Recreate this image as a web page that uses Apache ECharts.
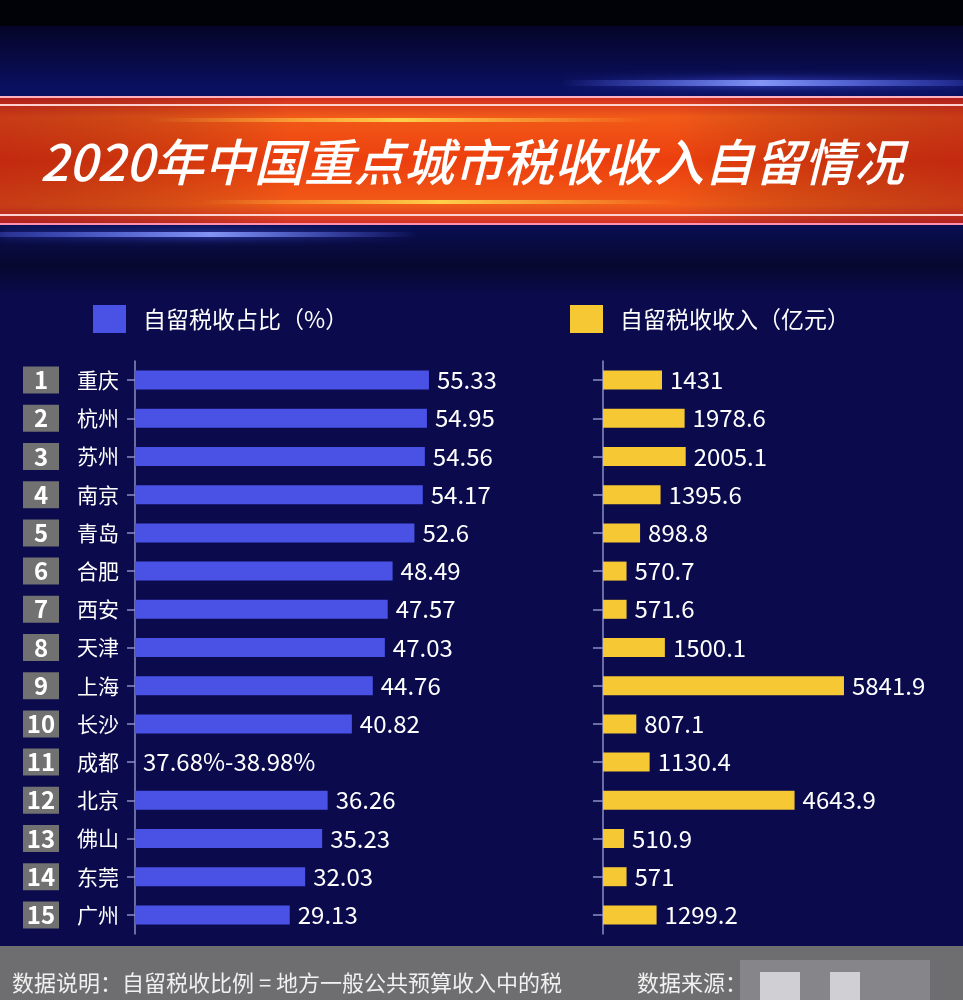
<!DOCTYPE html>
<html><head><meta charset="utf-8">
<script src="https://cdn.jsdelivr.net/npm/echarts@6/dist/echarts.min.js"></script>
<style>html,body{margin:0;padding:0;background:#0b0b4e;}#c{width:963px;height:1000px;}</style>
</head><body><div id="c"></div>
<script>
const titleText = '2020年中国重点城市税收收入自留情况';
const legendLeft = '自留税收占比（%）';
const legendRight = '自留税收收入（亿元）';
const ranks = ['1','2','3','4','5','6','7','8','9','10','11','12','13','14','15'];
const cities = ['重庆','杭州','苏州','南京','青岛','合肥','西安','天津','上海','长沙','成都','北京','佛山','东莞','广州'];
const sharePct = [55.33,54.95,54.56,54.17,52.6,48.49,47.57,47.03,44.76,40.82,null,36.26,35.23,32.03,29.13];
const shareText = {10:'37.68%-38.98%'};
const income = [1431,1978.6,2005.1,1395.6,898.8,570.7,571.6,1500.1,5841.9,807.1,1130.4,4643.9,510.9,571,1299.2];
const noteText = '数据说明：自留税收比例 = 地方一般公共预算收入中的税';
const sourceText = '数据来源：';

const FONT = '"Noto Sans CJK SC","Noto Sans",sans-serif';
const chart = echarts.init(document.getElementById('c'));

const shareData = sharePct.map((v,i)=> v==null ? {value:0, label:{formatter: shareText[i]}} : v);

const catLabelRich = {
  box:{backgroundColor:'#717171',color:'#fff',fontWeight:'bold',fontSize:24,width:36,height:27,align:'center',fontFamily:FONT,lineHeight:27},
  sp:{width:18},
  nm:{color:'#fff',fontSize:21,fontFamily:FONT}
};

chart.setOption({
  backgroundColor:'#0a0a4c',
  graphic:[
    {type:'rect',shape:{x:0,y:0,width:963,height:295},style:{fill:new echarts.graphic.LinearGradient(0,0,0,1,[{offset:0,color:'#02021a'},{offset:0.12,color:'#060630'},{offset:0.3,color:'#0a1060'},{offset:0.7,color:'#0a1060'},{offset:0.9,color:'#07082f'},{offset:1,color:'#0a0a4c'}])},z:-10},
    {type:'rect',shape:{x:0,y:0,width:963,height:26},style:{fill:'#010108'},z:-9},
    {type:'rect',shape:{x:560,y:80,width:403,height:6},style:{fill:new echarts.graphic.LinearGradient(0,0,1,0,[{offset:0,color:'rgba(90,110,255,0)'},{offset:0.5,color:'rgba(140,160,255,0.9)'},{offset:1,color:'rgba(90,110,255,0.2)'}]),shadowBlur:10,shadowColor:'#5060ff'},z:-8},
    {type:'rect',shape:{x:0,y:232,width:420,height:5},style:{fill:new echarts.graphic.LinearGradient(0,0,1,0,[{offset:0,color:'rgba(90,110,255,0.3)'},{offset:0.5,color:'rgba(140,160,255,0.9)'},{offset:1,color:'rgba(90,110,255,0)'}]),shadowBlur:10,shadowColor:'#5060ff'},z:-8},
    {type:'rect',shape:{x:0,y:98,width:963,height:126},style:{fill:new echarts.graphic.LinearGradient(0,0,0,1,[{offset:0,color:'#d03020'},{offset:0.15,color:'#f25a18'},{offset:0.5,color:'#ec3e0e'},{offset:0.85,color:'#f25c18'},{offset:1,color:'#d03028'}])},z:-7},
    {type:'rect',shape:{x:0,y:98,width:963,height:126},style:{fill:new echarts.graphic.LinearGradient(0,0,1,0,[{offset:0,color:'rgba(120,0,20,0.35)'},{offset:0.3,color:'rgba(0,0,0,0)'},{offset:0.7,color:'rgba(0,0,0,0)'},{offset:1,color:'rgba(120,0,20,0.35)'}])},z:-6},
    {type:'rect',shape:{x:0,y:96,width:963,height:2},style:{fill:'#ffb0c0'},z:-5},
    {type:'rect',shape:{x:0,y:104,width:963,height:2},style:{fill:'#ffd0d0'},z:-5},
    {type:'rect',shape:{x:0,y:214,width:963,height:2},style:{fill:'#ffd0d0'},z:-5},
    {type:'rect',shape:{x:0,y:223,width:963,height:2},style:{fill:'#ff90b0'},z:-5},
    {type:'rect',shape:{x:150,y:118,width:500,height:4},style:{fill:new echarts.graphic.LinearGradient(0,0,1,0,[{offset:0,color:'rgba(255,220,80,0)'},{offset:0.5,color:'rgba(255,220,80,0.9)'},{offset:1,color:'rgba(255,220,80,0)'}])},z:-5},
    {type:'rect',shape:{x:200,y:200,width:480,height:4},style:{fill:new echarts.graphic.LinearGradient(0,0,1,0,[{offset:0,color:'rgba(255,220,80,0)'},{offset:0.5,color:'rgba(255,220,80,0.9)'},{offset:1,color:'rgba(255,220,80,0)'}])},z:-5},
    {type:'text',x:472,y:162,style:{text:titleText,fill:'#ffffff',font:'italic 500 50px '+FONT,textAlign:'center',textVerticalAlign:'middle',shadowBlur:4,shadowColor:'rgba(80,0,0,0.8)',shadowOffsetX:2,shadowOffsetY:2},z:10},
    {type:'rect',shape:{x:0,y:946,width:963,height:54},style:{fill:'#6e6e70'},z:-5},
    {type:'text',x:12,y:983,style:{text:noteText,fill:'#f0f0f0',font:'22px '+FONT,textVerticalAlign:'middle'},z:10},
    {type:'text',x:637,y:983,style:{text:sourceText,fill:'#f0f0f0',font:'22px '+FONT,textVerticalAlign:'middle'},z:10},
    {type:'rect',shape:{x:740,y:960,width:190,height:40},style:{fill:'rgba(150,150,155,0.6)'},z:9},
    {type:'rect',shape:{x:760,y:972,width:40,height:28},style:{fill:'rgba(225,225,230,0.8)'},z:9},
    {type:'rect',shape:{x:830,y:972,width:30,height:28},style:{fill:'rgba(225,225,230,0.8)'},z:9}
  ],
  legend:[
    {data:['left'],left:88,top:300,itemWidth:33,itemHeight:28,icon:'rect',formatter:()=>legendLeft,textStyle:{color:'#fff',fontSize:23,fontFamily:FONT,padding:[0,0,0,12]}},
    {data:['right'],left:565,top:300,itemWidth:33,itemHeight:28,icon:'rect',formatter:()=>legendRight,textStyle:{color:'#fff',fontSize:23,fontFamily:FONT,padding:[0,0,0,12]}}
  ],
  grid:[
    {left:135,top:361,width:425,height:573,containLabel:false},
    {left:603,top:361,width:330,height:573,containLabel:false}
  ],
  xAxis:[
    {gridIndex:0,type:'value',min:0,max:80,show:false},
    {gridIndex:1,type:'value',min:0,max:8000,show:false}
  ],
  yAxis:[
    {gridIndex:0,type:'category',data:cities,inverse:true,
     axisLine:{show:true,lineStyle:{color:'#8a8fc4',width:1.5}},
     axisTick:{show:true,length:8,alignWithLabel:true,lineStyle:{color:'#8a8fc4',width:1.5}},
     axisLabel:{margin:16,formatter:(v,i)=>'{box|'+ranks[i]+'}{sp|}{nm|'+v+'}',rich:catLabelRich}},
    {gridIndex:1,type:'category',data:cities,inverse:true,
     axisLine:{show:true,lineStyle:{color:'#8a8fc4',width:1.5}},
     axisTick:{show:true,length:10,alignWithLabel:true,lineStyle:{color:'#8a8fc4',width:1.5}},
     axisLabel:{show:false}}
  ],
  series:[
    {name:'left',type:'bar',xAxisIndex:0,yAxisIndex:0,data:shareData,barWidth:19,
     itemStyle:{color:'#4a52e6'},
     label:{show:true,position:'right',distance:8,color:'#fff',fontSize:24,fontFamily:FONT}},
    {name:'right',type:'bar',xAxisIndex:1,yAxisIndex:1,data:income,barWidth:19,
     itemStyle:{color:'#f6c833'},
     label:{show:true,position:'right',distance:8,color:'#fff',fontSize:24,fontFamily:FONT}}
  ],
  animation:false
});
</script></body></html>
